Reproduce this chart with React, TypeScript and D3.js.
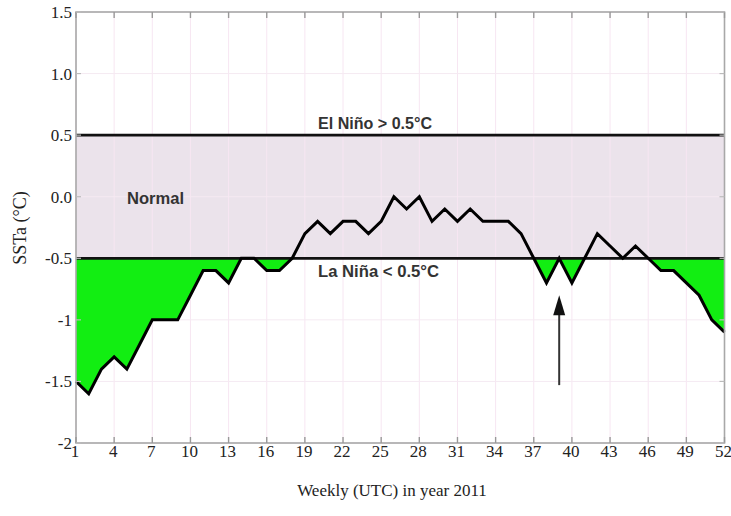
import React from "react";
import * as d3 from "d3";

const weeks: number[] = Array.from({ length: 52 }, (_, i) => i + 1);
const ssta: number[] = [
  -1.5, -1.6, -1.4, -1.3, -1.4, -1.2, -1.0, -1.0, -1.0, -0.8,
  -0.6, -0.6, -0.7, -0.5, -0.5, -0.6, -0.6, -0.5, -0.3, -0.2,
  -0.3, -0.2, -0.2, -0.3, -0.2, 0.0, -0.1, 0.0, -0.2, -0.1,
  -0.2, -0.1, -0.2, -0.2, -0.2, -0.3, -0.5, -0.7, -0.5, -0.7,
  -0.5, -0.3, -0.4, -0.5, -0.4, -0.5, -0.6, -0.6, -0.7, -0.8,
  -1.0, -1.1,
];
const xTicks: number[] = [1, 4, 7, 10, 13, 16, 19, 22, 25, 28, 31, 34, 37, 40, 43, 46, 49, 52];
const yTicks: number[] = [1.5, 1.0, 0.5, 0.0, -0.5, -1, -1.5, -2];
const yTickLabels: string[] = ["1.5", "1.0", "0.5", "0.0", "-0.5", "-1", "-1.5", "-2"];
const thresholds: number[] = [0.5, -0.5];
const arrowWeek = 39;
const arrowFrom = -1.53;
const arrowTo = -0.8;

const W = 731;
const H = 516;
const left = 76;
const right = 724.5;
const top = 12;
const bottom = 443;

export default function App() {
  const x = d3.scaleLinear().domain([1, 52]).range([left, right]);
  const y = d3.scaleLinear().domain([-2, 1.5]).range([bottom, top]);
  const data = weeks.map((w, i) => ({ w, v: ssta[i] }));

  const line = d3
    .line<{ w: number; v: number }>()
    .x((d) => x(d.w))
    .y((d) => y(d.v));
  const area = d3
    .area<{ w: number; v: number }>()
    .x((d) => x(d.w))
    .y0(y(-0.5))
    .y1((d) => y(d.v));

  const ax = x(arrowWeek);
  const aTip = y(arrowTo);
  const aBase = y(arrowFrom);
  const headH = 20;
  const headW = 6;

  const serif = "'Liberation Serif', 'Times New Roman', serif";
  const sans = "'Liberation Sans', Arial, sans-serif";

  return (
    <svg
      width={W}
      height={H}
      style={{ position: "absolute", left: 0, top: 0, background: "#fff" }}
    >
      <defs>
        <clipPath id="belowLa">
          <rect x={left} y={y(-0.5)} width={right - left} height={bottom - y(-0.5)} />
        </clipPath>
      </defs>
      <rect x={0} y={0} width={W} height={H} fill="#fff" />
      {/* normal band */}
      <rect
        x={left}
        y={y(0.5)}
        width={right - left}
        height={y(-0.5) - y(0.5)}
        fill="#ebe3eb"
      />
      {/* grid */}
      {xTicks.map((t) => (
        <line key={"gx" + t} x1={x(t)} x2={x(t)} y1={top} y2={bottom} stroke="#f7e6f2" strokeWidth={1} />
      ))}
      {yTicks.map((t) => (
        <line key={"gy" + t} x1={left} x2={right} y1={y(t)} y2={y(t)} stroke="#f5eaf2" strokeWidth={1} />
      ))}
      {/* green fill */}
      <path d={area(data) || ""} fill="#12ee12" clipPath="url(#belowLa)" />
      {/* threshold lines */}
      {thresholds.map((t) => (
        <line key={"th" + t} x1={left} x2={right} y1={y(t)} y2={y(t)} stroke="#111" strokeWidth={2.8} />
      ))}
      {/* data line */}
      <path d={line(data) || ""} fill="none" stroke="#000" strokeWidth={3} strokeLinejoin="miter" />
      {/* frame */}
      <rect x={left} y={top} width={right - left} height={bottom - top} fill="none" stroke="#a8a8a8" strokeWidth={1.6} />
      {/* ticks */}
      {xTicks.map((t) => (
        <g key={"tx" + t}>
          <line x1={x(t)} x2={x(t)} y1={bottom} y2={bottom - 6} stroke="#999" strokeWidth={1.4} />
          <line x1={x(t)} x2={x(t)} y1={top} y2={top + 6} stroke="#999" strokeWidth={1.4} />
        </g>
      ))}
      {yTicks.map((t) => (
        <g key={"ty" + t}>
          <line x1={left} x2={left + 5} y1={y(t)} y2={y(t)} stroke="#bbb" strokeWidth={1.2} />
          <line x1={right} x2={right - 5} y1={y(t)} y2={y(t)} stroke="#bbb" strokeWidth={1.2} />
        </g>
      ))}
      {/* tick labels */}
      {yTicks.map((t, i) => (
        <text
          key={"ly" + t}
          x={72}
          y={y(t) + 6}
          textAnchor="end"
          fontFamily={serif}
          fontSize={17}
          fill="#222"
        >
          {yTickLabels[i]}
        </text>
      ))}
      {xTicks.map((t) => (
        <text
          key={"lx" + t}
          x={x(t) - 1}
          y={457}
          textAnchor="middle"
          fontFamily={serif}
          fontSize={17}
          fill="#222"
        >
          {t}
        </text>
      ))}
      {/* axis titles */}
      <text
        x={392}
        y={496}
        textAnchor="middle"
        fontFamily={serif}
        fontSize={17}
        fill="#222"
      >
        Weekly (UTC) in year 2011
      </text>
      <text
        transform={`translate(26, 228) rotate(-90)`}
        textAnchor="middle"
        fontFamily={serif}
        fontSize={18}
        fill="#222"
      >
        SSTa (°C)
      </text>
      {/* annotations */}
      <text x={318} y={129} fontFamily={sans} fontWeight="bold" fontSize={16} fill="#333" textLength={114} lengthAdjust="spacingAndGlyphs">
        El Niño &gt; 0.5°C
      </text>
      <text x={318} y={277} fontFamily={sans} fontWeight="bold" fontSize={16} fill="#333" textLength={121} lengthAdjust="spacingAndGlyphs">
        La Niña &lt; 0.5°C
      </text>
      <text x={127} y={204} fontFamily={sans} fontWeight="bold" fontSize={16} fill="#333" textLength={57} lengthAdjust="spacingAndGlyphs">
        Normal
      </text>
      {/* arrow */}
      <line x1={ax} x2={ax} y1={aBase} y2={aTip + headH - 2} stroke="#333" strokeWidth={2} />
      <path
        d={`M${ax},${aTip} L${ax - headW},${aTip + headH} L${ax + headW},${aTip + headH} Z`}
        fill="#111"
      />
    </svg>
  );
}
